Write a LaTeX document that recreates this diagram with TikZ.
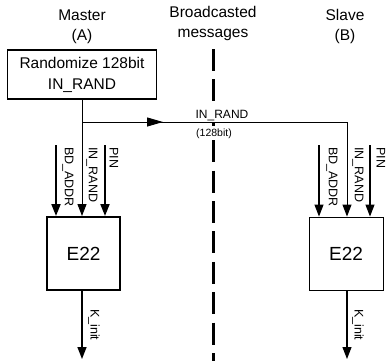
\documentclass[tikz,border=0pt]{standalone}
\usepackage{fontspec}
\setmainfont{Liberation Sans}
\usetikzlibrary{arrows.meta,decorations.markings}
\begin{document}
\begin{tikzpicture}[x=1pt,y=-1pt,
  hdr/.style={font=\fontsize{15.5}{19.5}\selectfont, align=center, inner sep=0pt, anchor=base},
  blk/.style={draw, inner sep=0pt, font=\fontsize{15.5}{21}\selectfont, align=center},
  ebox/.style={draw, inner sep=0pt, minimum width=73pt, minimum height=73pt, font=\fontsize{19}{22}\selectfont},
  vlbl/.style={font=\fontsize{12.5}{14}\selectfont, rotate=-90, anchor=west, inner sep=0pt},
  tip/.style={-{Triangle[length=12pt,width=9pt]}},
  thick2/.style={line width=1.8pt},
  thin1/.style={line width=1pt}
]
\useasboundingbox (0,0) rectangle (386,360);
% headers
\node[hdr] (hA) at (82,40) {Master\\(A)};
\node[hdr] (hM) at (213,37) {Broadcasted\\messages};
\node[hdr] (hB) at (345,40) {Slave\\(B)};
% dashed separator
\coordinate (dtop) at (213,49);
\coordinate (dbot) at (213,362);
\draw[line width=3pt, dash pattern=on 22pt off 8.4pt] (dtop) -- (dbot);
% boxes
\node[blk, line width=1.4pt, minimum width=149pt, minimum height=49pt] (rand) at (82,74.5) {Randomize 128bit\\IN\_RAND};
\node[ebox, line width=2pt] (ea) at (83.5,253.5) {E22};
\node[ebox, line width=0.9pt, minimum width=74pt] (eb) at (346,253.5) {E22};
% broadcast labels
\node[font=\fontsize{12}{14}\selectfont, fill=white, inner sep=1.5pt, anchor=base] (lr) at (222,118) {IN\_RAND};
\node[font=\fontsize{10.5}{12}\selectfont, fill=white, inner sep=2pt, anchor=base] (lb) at (214,136) {(128bit)};
% master IN_RAND path
\coordinate (jA) at (82,122);
\coordinate (jB) at (347,122);
\draw[thin1, tip] (rand.south) -- (rand.south |- ea.north);
\draw[thin1, tip, postaction={decorate}, decoration={markings, mark=at position 81pt with {\arrow{Triangle[length=16pt,width=9pt]}}}] (jA) -- (jB) -- (jB |- eb.north);
% master inputs
\coordinate (bdA) at (56,145);
\coordinate (pinA) at (105,145);
\draw[thick2, tip] (bdA) -- (bdA |- ea.north);
\draw[thick2, tip] (pinA) -- (pinA |- ea.north);
\node[vlbl] (lbdA) at (68,147) {BD\_ADDR};
\node[vlbl] (lirA) at (92,147) {IN\_RAND};
\node[vlbl] (lpinA) at (114,147) {PIN};
% slave inputs
\coordinate (bdB) at (319,145);
\coordinate (pinB) at (370,145);
\draw[line width=1.1pt, tip] (bdB) -- (bdB |- eb.north);
\draw[line width=1.1pt, tip] (pinB) -- (pinB |- eb.north);
\node[vlbl] (lbdB) at (332,147) {BD\_ADDR};
\node[vlbl] (lirB) at (358,147) {IN\_RAND};
\node[vlbl] (lpinB) at (381,147) {PIN};
% outputs
\coordinate (oA) at (82,359);
\coordinate (oB) at (347,359);
\draw[line width=1.5pt, tip] (ea.south -| oA) -- (oA);
\draw[line width=1.1pt, tip] (eb.south -| oB) -- (oB);
\node[vlbl] (kA) at (94,309) {K\_init};
\node[vlbl] (kB) at (358,309) {K\_init};
\end{tikzpicture}
\end{document}
